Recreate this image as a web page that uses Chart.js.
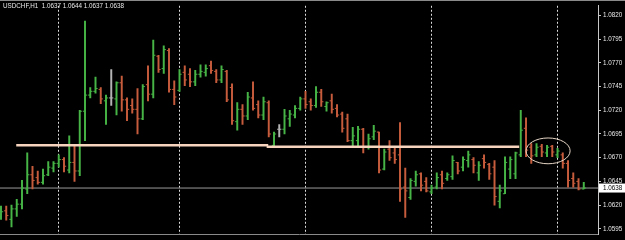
<!DOCTYPE html>
<html lang="en">
<head>
<meta charset="UTF-8">
<title>USDCHF,H1</title>
<script src="https://cdn.jsdelivr.net/npm/chart.js"></script>
<style>
  html, body { margin: 0; padding: 0; background: #000; }
  #priceChart { display: block; }
</style>
</head>
<body>
<canvas id="priceChart" width="625" height="240"></canvas>
<script>
// hourly bars (oldest first)
const symbolName = 'USDCHF,H1';
const openPrices = [
  1.0608, 1.0614, 1.0605, 1.0616, 1.0621, 1.0637, 1.0652, 1.0649, 1.0644, 1.0652,
  1.0659, 1.0664, 1.0668, 1.0657, 1.0665, 1.0656, 1.0719, 1.0736, 1.0740, 1.0742,
  1.0730, 1.0733, 1.0732, 1.0749, 1.0731, 1.0725, 1.0721, 1.0711, 1.0747, 1.0737,
  1.0777, 1.0764, 1.0783, 1.0742, 1.0741, 1.0760, 1.0758, 1.0750, 1.0758, 1.0760,
  1.0767, 1.0761, 1.0752, 1.0761, 1.0744, 1.0708, 1.0721, 1.0714, 1.0733, 1.0726,
  1.0715, 1.0728, 1.0683, 1.0700, 1.0700, 1.0711, 1.0715, 1.0722, 1.0732, 1.0729,
  1.0725, 1.0739, 1.0724, 1.0730, 1.0722, 1.0716, 1.0711, 1.0688, 1.0688, 1.0700,
  1.0681, 1.0692, 1.0697, 1.0658, 1.0679, 1.0675, 1.0673, 1.0639, 1.0628, 1.0645,
  1.0653, 1.0645, 1.0634, 1.0639, 1.0652, 1.0648, 1.0650, 1.0665, 1.0660, 1.0667,
  1.0668, 1.0654, 1.0669, 1.0663, 1.0660, 1.0624, 1.0632, 1.0658, 1.0653, 1.0673,
  1.0701, 1.0681, 1.0673, 1.0682, 1.0675, 1.0682, 1.0673, 1.0673, 1.0664, 1.0648,
  1.0645, 1.0637
];
const highPrices = [
  1.0619, 1.0619, 1.0620, 1.0626, 1.0646, 1.0675, 1.0661, 1.0656, 1.0658, 1.0666,
  1.0666, 1.0673, 1.0670, 1.0693, 1.0683, 1.0720, 1.0814, 1.0744, 1.0755, 1.0744,
  1.0736, 1.0763, 1.0750, 1.0756, 1.0733, 1.0732, 1.0743, 1.0747, 1.0767, 1.0794,
  1.0778, 1.0788, 1.0785, 1.0751, 1.0763, 1.0767, 1.0764, 1.0762, 1.0768, 1.0768,
  1.0772, 1.0763, 1.0767, 1.0762, 1.0748, 1.0728, 1.0726, 1.0739, 1.0750, 1.0730,
  1.0734, 1.0730, 1.0697, 1.0705, 1.0721, 1.0720, 1.0725, 1.0734, 1.0740, 1.0732,
  1.0745, 1.0742, 1.0729, 1.0737, 1.0726, 1.0718, 1.0716, 1.0702, 1.0703, 1.0701,
  1.0695, 1.0704, 1.0697, 1.0679, 1.0688, 1.0680, 1.0707, 1.0659, 1.0648, 1.0656,
  1.0654, 1.0649, 1.0641, 1.0654, 1.0656, 1.0654, 1.0672, 1.0665, 1.0671, 1.0677,
  1.0670, 1.0666, 1.0673, 1.0664, 1.0667, 1.0641, 1.0671, 1.0671, 1.0676, 1.0720,
  1.0712, 1.0685, 1.0685, 1.0684, 1.0683, 1.0683, 1.0680, 1.0675, 1.0667, 1.0654,
  1.0648, 1.0644
];
const lowPrices = [
  1.0605, 1.0604, 1.0597, 1.0608, 1.0616, 1.0632, 1.0637, 1.0642, 1.0642, 1.0651,
  1.0655, 1.0660, 1.0655, 1.0654, 1.0645, 1.0651, 1.0688, 1.0733, 1.0738, 1.0727,
  1.0705, 1.0725, 1.0715, 1.0719, 1.0709, 1.0717, 1.0695, 1.0710, 1.0730, 1.0733,
  1.0760, 1.0759, 1.0739, 1.0726, 1.0740, 1.0746, 1.0745, 1.0746, 1.0755, 1.0756,
  1.0759, 1.0749, 1.0749, 1.0729, 1.0705, 1.0699, 1.0705, 1.0710, 1.0720, 1.0712,
  1.0710, 1.0692, 1.0682, 1.0692, 1.0695, 1.0703, 1.0712, 1.0720, 1.0722, 1.0720,
  1.0723, 1.0724, 1.0719, 1.0717, 1.0713, 1.0697, 1.0687, 1.0682, 1.0682, 1.0675,
  1.0679, 1.0689, 1.0654, 1.0657, 1.0667, 1.0664, 1.0624, 1.0607, 1.0626, 1.0640,
  1.0635, 1.0634, 1.0632, 1.0637, 1.0637, 1.0646, 1.0647, 1.0653, 1.0656, 1.0660,
  1.0654, 1.0646, 1.0659, 1.0647, 1.0620, 1.0617, 1.0632, 1.0648, 1.0648, 1.0671,
  1.0671, 1.0664, 1.0671, 1.0671, 1.0671, 1.0671, 1.0670, 1.0659, 1.0639, 1.0639,
  1.0636, 1.0637
];
const closePrices = [
  1.0613, 1.0609, 1.0616, 1.0621, 1.0638, 1.0652, 1.0646, 1.0644, 1.0651, 1.0660,
  1.0664, 1.0668, 1.0661, 1.0665, 1.0656, 1.0719, 1.0736, 1.0740, 1.0743, 1.0732,
  1.0733, 1.0733, 1.0749, 1.0731, 1.0721, 1.0721, 1.0711, 1.0745, 1.0737, 1.0778,
  1.0763, 1.0784, 1.0742, 1.0734, 1.0758, 1.0752, 1.0750, 1.0758, 1.0761, 1.0764,
  1.0762, 1.0752, 1.0763, 1.0731, 1.0709, 1.0721, 1.0714, 1.0734, 1.0722, 1.0715,
  1.0729, 1.0695, 1.0695, 1.0700, 1.0714, 1.0716, 1.0722, 1.0732, 1.0726, 1.0725,
  1.0739, 1.0729, 1.0728, 1.0721, 1.0715, 1.0701, 1.0688, 1.0693, 1.0700, 1.0681,
  1.0690, 1.0698, 1.0657, 1.0676, 1.0670, 1.0668, 1.0637, 1.0635, 1.0646, 1.0652,
  1.0641, 1.0635, 1.0638, 1.0649, 1.0643, 1.0652, 1.0667, 1.0656, 1.0668, 1.0673,
  1.0662, 1.0662, 1.0665, 1.0653, 1.0629, 1.0635, 1.0665, 1.0668, 1.0675, 1.0699,
  1.0678, 1.0672, 1.0681, 1.0676, 1.0681, 1.0676, 1.0677, 1.0664, 1.0646, 1.0643,
  1.0637, 1.0638
];
const priceTicks = [1.0595, 1.0620, 1.0645, 1.0670, 1.0695, 1.0720, 1.0745, 1.0770, 1.0795, 1.0820];
const daySeparators = [11, 34, 58, 82, 106];      // bar index of each vertical grid line
const supportLevels = [                            // hand drawn trend lines
  { from: 2.9, to: 50.9, price: 1.06830 },
  { from: 50.6, to: 98.7, price: 1.06815 }
];
const markedZone = { bar: 104.2, price: 1.06772, bars: 4.2, pips: 0.00136 };

const UP = '#46b446', DOWN = '#c65c3c', FLAT = '#b4b4b4';
const barColors = openPrices.map((o, i) =>
  closePrices[i] > o ? UP : (closePrices[i] < o ? DOWN : FLAT));
const idx = openPrices.map((_, i) => i);
const last = openPrices.length - 1;
const lastClose = closePrices[last];

const fmt = v => v.toFixed(4);

// MT4 style overlay: header text, ellipse, current price tag
const terminalBits = {
  id: 'terminalBits',
  beforeDraw(chart) {
    const ctx = chart.ctx;
    ctx.save();
    ctx.fillStyle = '#000';
    ctx.fillRect(0, 0, chart.width, chart.height);
    ctx.restore();
  },
  afterDatasetsDraw(chart) {
    const { ctx, scales: { x, y } } = chart;
    ctx.save();
    const cx = x.getPixelForValue(markedZone.bar);
    const cy = y.getPixelForValue(markedZone.price);
    const rx = x.getPixelForValue(markedZone.bar + markedZone.bars) - cx;
    const ry = cy - y.getPixelForValue(markedZone.price + markedZone.pips);
    ctx.strokeStyle = '#e6d6c6';
    ctx.lineWidth = 1;
    ctx.beginPath();
    ctx.ellipse(cx, cy, rx, ry, 0, 0, Math.PI * 2);
    ctx.stroke();
    ctx.restore();
  },
  afterDraw(chart) {
    const { ctx, chartArea, scales: { y } } = chart;
    ctx.save();
    ctx.fillStyle = '#8a8a8a';
    ctx.fillRect(0, 0, chart.width, 1);
    ctx.font = '6.3px "Liberation Sans", Arial, sans-serif';
    ctx.textBaseline = 'middle';
    ctx.fillStyle = '#e8e8e8';
    ctx.fillText(symbolName + '  ' + [openPrices[last], highPrices[last], lowPrices[last], lastClose]
      .map(fmt).join(' '), 3, 6.5);
    const py = y.getPixelForValue(lastClose);
    ctx.fillStyle = '#ffffff';
    ctx.fillRect(chartArea.right + 1, py - 4.5, chart.width - chartArea.right - 1, 9);
    ctx.fillStyle = '#000';
    ctx.fillText(fmt(lastClose), chartArea.right + 5, py + 0.5);
    ctx.restore();
  }
};

new Chart(document.getElementById('priceChart'), {
  type: 'bar',
  data: {
    datasets: [
      {
        type: 'line',
        data: [{ x: -1, y: lastClose }, { x: 120, y: lastClose }],
        borderColor: '#9a9a9a',
        borderWidth: 1,
        pointRadius: 0,
        order: 10
      },
      {
        data: idx.map(i => ({ x: i, y: [lowPrices[i], highPrices[i]] })),
        backgroundColor: barColors,
        barThickness: 1.3,
        grouped: false,
        order: 5
      },
      {
        type: 'scatter',
        data: idx.map(i => ({ x: i - 0.2, y: openPrices[i] })),
        pointStyle: 'line',
        radius: 1.1,
        borderWidth: 1,
        borderColor: barColors,
        order: 4
      },
      {
        type: 'scatter',
        data: idx.map(i => ({ x: i + 0.2, y: closePrices[i] })),
        pointStyle: 'line',
        radius: 1.1,
        borderWidth: 1,
        borderColor: barColors,
        order: 4
      },
      ...supportLevels.map(l => ({
        type: 'line',
        data: [{ x: l.from, y: l.price }, { x: l.to, y: l.price }],
        borderColor: '#f6d4bd',
        borderWidth: 2.5,
        pointRadius: 0,
        order: 1
      }))
    ]
  },
  options: {
    responsive: false,
    animation: false,
    events: [],
    layout: { autoPadding: false, padding: { top: 1, left: 0, right: 0, bottom: 0 } },
    plugins: {
      legend: { display: false },
      tooltip: { enabled: false },
      title: { display: false }
    },
    scales: {
      x: {
        type: 'linear',
        offset: false,
        min: -0.19,
        max: 113.71,
        afterBuildTicks: s => { s.ticks = daySeparators.map(v => ({ value: v })); },
        afterFit: s => { s.height = 3; },
        ticks: { display: false },
        grid: { offset: false, color: '#dcdcdc', lineWidth: 1, drawTicks: false, borderDash: [2, 2] },
        border: { display: true, color: '#8a8a8a', width: 1, dash: [2, 2] }
      },
      y: {
        position: 'right',
        min: 1.05893,
        max: 1.08302,
        afterBuildTicks: s => { s.ticks = priceTicks.map(v => ({ value: v })); },
        afterFit: s => { s.width = 27; },
        ticks: {
          color: '#e8e8e8',
          padding: 2,
          font: { family: '"Liberation Sans", Arial, sans-serif', size: 6.3 },
          callback: v => fmt(v)
        },
        grid: { drawOnChartArea: false, drawTicks: true, tickLength: 3, color: '#c8c8c8' },
        border: { display: true, color: '#c8c8c8', width: 1 }
      }
    }
  },
  plugins: [terminalBits]
});
</script>
</body>
</html>
